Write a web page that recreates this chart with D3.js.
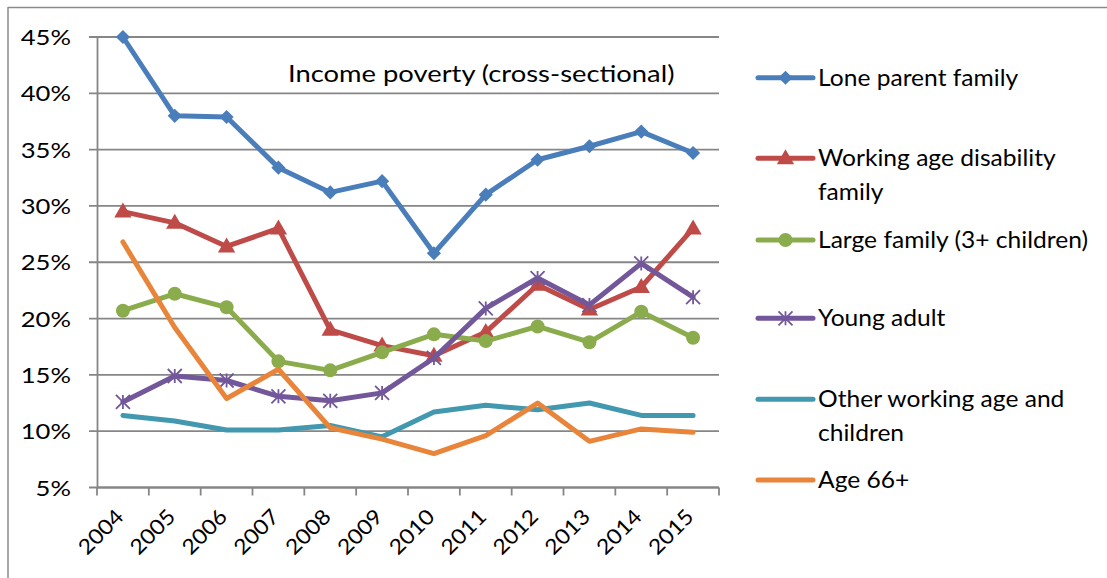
<!DOCTYPE html>
<html lang="en">
<head>
<meta charset="utf-8">
<title>Income poverty (cross-sectional)</title>
<script src="https://cdn.jsdelivr.net/npm/d3@7"></script>
<style>
  body { margin: 0; background: #fff; }
  text { font-family: Lato, "Open Sans", sans-serif; fill: #000; }
</style>
</head>
<body>
<script>
// categories
var years = ["2004","2005","2006","2007","2008","2009","2010","2011","2012","2013","2014","2015"];
var yTicks = [5, 10, 15, 20, 25, 30, 35, 40, 45];

// series values (%)
var loneParent   = [45.0, 38.0, 37.9, 33.4, 31.2, 32.2, 25.8, 31.0, 34.1, 35.3, 36.6, 34.7];
var disability   = [29.5, 28.5, 26.4, 28.0, 19.0, 17.6, 16.7, 18.8, 23.0, 20.8, 22.8, 28.0];
var largeFamily  = [20.7, 22.2, 21.0, 16.2, 15.4, 17.0, 18.6, 18.0, 19.3, 17.9, 20.6, 18.3];
var youngAdult   = [12.6, 14.9, 14.5, 13.1, 12.7, 13.4, 16.5, 20.9, 23.6, 21.2, 24.9, 21.9];
var otherWorking = [11.4, 10.9, 10.1, 10.1, 10.5, 9.5, 11.7, 12.3, 11.9, 12.5, 11.4, 11.4];
var age66        = [26.8, 19.2, 12.9, 15.5, 10.3, 9.3, 8.0, 9.6, 12.5, 9.1, 10.2, 9.9];

var seriesNames = ["Lone parent family", "Working age disability family", "Large family (3+ children)",
                   "Young adult", "Other working age and children", "Age 66+"];

var series = [
  {name: seriesNames[0], values: loneParent,   color: "#4A7EBB", marker: "diamond", label: ["Lone parent family"]},
  {name: seriesNames[1], values: disability,   color: "#BE4B48", marker: "triangle", label: ["Working age disability", "family"]},
  {name: seriesNames[2], values: largeFamily,  color: "#8BAC4C", marker: "circle", label: ["Large family (3+ children)"]},
  {name: seriesNames[3], values: youngAdult,   color: "#72579A", marker: "star", label: ["Young adult"]},
  {name: seriesNames[4], values: otherWorking, color: "#4198AF", marker: null, label: ["Other working age and", "children"]},
  {name: seriesNames[5], values: age66,        color: "#E8853A", marker: null, label: ["Age 66+"]}
];

var W = 1107, H = 578;
var svg = d3.select("body").append("svg").attr("width", W).attr("height", H);

// outer frame (only top and left visible)
svg.append("line").attr("x1", 8).attr("x2", W).attr("y1", 7.5).attr("y2", 7.5)
   .attr("stroke", "#8a8a8a").attr("stroke-width", 1.5);
svg.append("line").attr("x1", 8).attr("x2", 8).attr("y1", 7).attr("y2", H)
   .attr("stroke", "#8a8a8a").attr("stroke-width", 1.5);

var x = d3.scaleBand().domain(years).range([97, 719]);
var y = d3.scaleLinear().domain([5, 45]).range([487.5, 37]);

// gridlines
svg.append("g").selectAll("line").data(yTicks).join("line")
   .attr("x1", 89).attr("x2", 719)
   .attr("y1", d => y(d)).attr("y2", d => y(d))
   .attr("stroke", "#868686").attr("stroke-width", 1.8);

// y axis
var yAxis = svg.append("g").attr("transform", "translate(97,0)")
   .call(d3.axisLeft(y).tickValues(yTicks).tickFormat(d => d + "%").tickSize(0));
yAxis.select(".domain").attr("stroke", "#868686").attr("stroke-width", 1.8);
yAxis.selectAll(".tick text")
   .attr("x", 0).attr("dy", "0.36em").attr("font-size", 21)
   .attr("transform", "translate(-26,0) scale(1.22,1)");

// x axis
svg.append("line").attr("x1", 97).attr("x2", 719).attr("y1", y(5)).attr("y2", y(5))
   .attr("stroke", "#868686").attr("stroke-width", 1.8);
var bounds = years.map(d => x(d)).concat([719]);
svg.append("g").selectAll("line").data(bounds).join("line")
   .attr("x1", d => d).attr("x2", d => d)
   .attr("y1", y(5)).attr("y2", y(5) + 8)
   .attr("stroke", "#868686").attr("stroke-width", 1.8);
svg.append("g").selectAll("text").data(years).join("text")
   .attr("transform", d => "translate(" + (x(d) + x.bandwidth() / 2 + 2) + "," + 518 + ") rotate(-45) scale(1.1,1)")
   .attr("text-anchor", "end").attr("font-size", 21)
   .text(d => d);

// title
svg.append("text").attr("transform", "translate(288,82) scale(1.19,1)").attr("font-size", 23)
   .text("Income poverty (cross-sectional)");

var line = d3.line().x((d, i) => x(years[i]) + x.bandwidth() / 2).y(d => y(d));

function drawMarker(g, type, color, cx, cy) {
  if (type === "diamond") {
    g.append("path").attr("d", d3.symbol(d3.symbolSquare, 100)())
     .attr("transform", "translate(" + cx + "," + cy + ") rotate(45)").attr("fill", color);
  } else if (type === "triangle") {
    g.append("path").attr("d", d3.symbol(d3.symbolTriangle, 130)())
     .attr("transform", "translate(" + cx + "," + (cy + 1) + ")").attr("fill", color);
  } else if (type === "circle") {
    g.append("circle").attr("cx", cx).attr("cy", cy).attr("r", 7).attr("fill", color);
  } else if (type === "star") {
    var s = 7;
    g.append("path")
     .attr("d", "M" + (cx - s) + "," + (cy - s) + "L" + (cx + s) + "," + (cy + s) +
                "M" + (cx - s) + "," + (cy + s) + "L" + (cx + s) + "," + (cy - s) +
                "M" + cx + "," + (cy - s) + "L" + cx + "," + (cy + s))
     .attr("stroke", color).attr("stroke-width", 1.8).attr("fill", "none");
  }
}

series.forEach(function(s) {
  var g = svg.append("g");
  g.append("path").datum(s.values).attr("d", line)
   .attr("fill", "none").attr("stroke", s.color).attr("stroke-width", 5)
   .attr("stroke-linejoin", "round").attr("stroke-linecap", "round");
  if (s.marker) {
    s.values.forEach(function(v, i) {
      drawMarker(g, s.marker, s.color, x(years[i]) + x.bandwidth() / 2, y(v));
    });
  }
});

// legend
var legendY = [77.7, 158.3, 240, 318.3, 399.3, 480];
series.forEach(function(s, i) {
  var g = svg.append("g");
  var ly = legendY[i];
  g.append("line").attr("x1", 758).attr("x2", 813).attr("y1", ly).attr("y2", ly)
   .attr("stroke", s.color).attr("stroke-width", 5).attr("stroke-linecap", "round");
  if (s.marker) drawMarker(g, s.marker, s.color, 785.5, ly);
  s.label.forEach(function(t, j) {
    g.append("text").attr("transform", "translate(818," + (ly + 8 + j * 33.4) + ") scale(1.07,1)")
     .attr("font-size", 23).text(t);
  });
});
</script>
</body>
</html>
